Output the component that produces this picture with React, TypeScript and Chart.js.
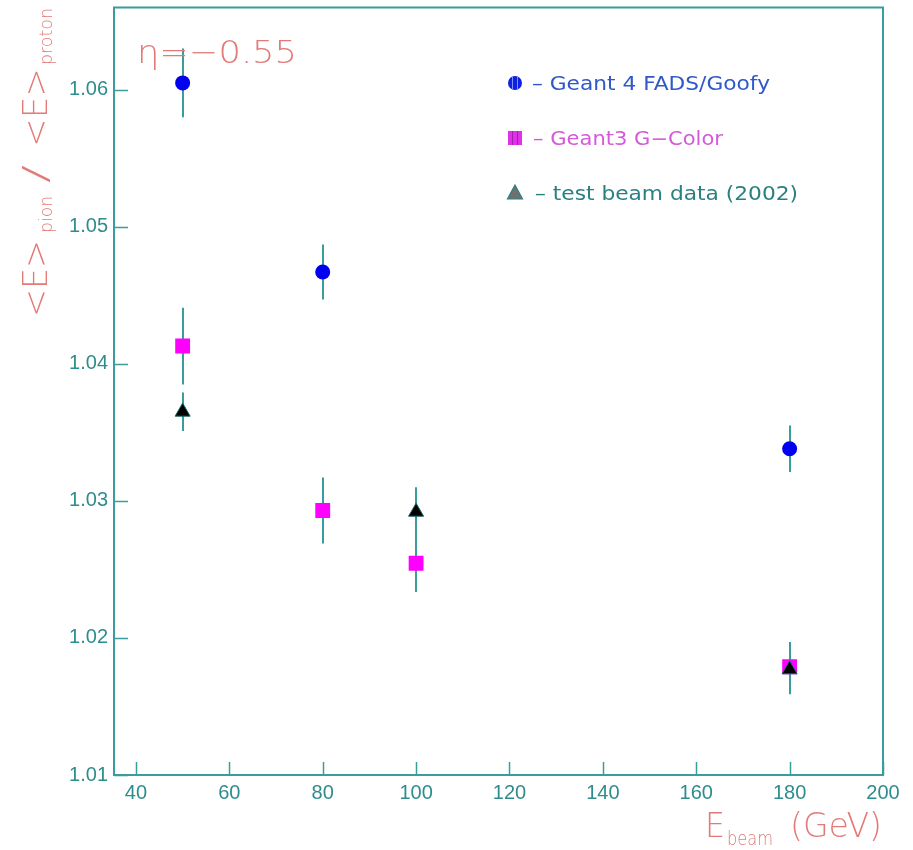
import { useEffect, useRef } from "react";
import { Chart, registerables } from "chart.js";

Chart.register(...registerables);

// ---- data ----
const g4Energy = [50, 80, 180];
const g4Ratio = [1.0605, 1.0467, 1.0338];
const g4Error = [0.0025, 0.002, 0.0017];

const g3Energy = [50, 80, 100, 180];
const g3Ratio = [1.0413, 1.0293, 1.02545, 1.0179];
const g3Error = [0.0028, 0.0024, 0.0021, 0.0018];

const tbEnergy = [50, 100, 180];
const tbRatio = [1.0365, 1.0292, 1.0177];
const tbError = [0.0014, 0.0018, 0.0018];

const xTicks = [40, 60, 80, 100, 120, 140, 160, 180, 200];
const yTicks = [1.01, 1.02, 1.03, 1.04, 1.05, 1.06];
const xRange = [35.3, 200];
const yRange = [1.01, 1.066];

const seriesLabels = ["Geant 4 FADS/Goofy", "Geant3 G\u2212Color", "test beam data (2002)"];
const etaLabel = "\u03b7=\u22120.55";

// ---- styles ----
const TEAL = "#3a9c9c";
const TICK_TEXT = "#2f8c8c";
const SALMON = "#e27a78";
const FONT = "'Liberation Sans', Arial, sans-serif";
const THIN = "'DejaVu Sans', 'Liberation Sans', sans-serif";
const OFF = 3; // canvas is shifted up by this many pixels

function fitText(
  ctx: CanvasRenderingContext2D,
  text: string,
  x: number,
  y: number,
  size: number,
  color: string,
  width?: number,
  family: string = THIN,
  weight: number = 200,
  dy: number = OFF
) {
  ctx.save();
  ctx.font = `${weight} ${size}px ${family}`;
  ctx.fillStyle = color;
  ctx.textAlign = "left";
  ctx.textBaseline = "alphabetic";
  const w = ctx.measureText(text).width;
  const sx = width ? width / w : 1;
  ctx.translate(x, y + dy);
  ctx.scale(sx, 1);
  ctx.fillText(text, 0, 0);
  ctx.restore();
}

const errorBarPlugin = {
  id: "errorBars",
  beforeDatasetsDraw(chart: any) {
    const ctx = chart.ctx as CanvasRenderingContext2D;
    const xs = chart.scales.x;
    const ys = chart.scales.y;
    const area = chart.chartArea;
    ctx.save();
    ctx.beginPath();
    ctx.rect(area.left, area.top, area.right - area.left, area.bottom - area.top);
    ctx.clip();
    ctx.strokeStyle = TEAL;
    ctx.lineWidth = 2;
    chart.data.datasets.forEach((ds: any) => {
      ds.data.forEach((p: any, j: number) => {
        const e = ds.errors[j];
        const px = Math.round(xs.getPixelForValue(p.x));
        ctx.beginPath();
        ctx.moveTo(px, ys.getPixelForValue(p.y - e));
        ctx.lineTo(px, ys.getPixelForValue(p.y + e));
        ctx.stroke();
      });
    });
    ctx.restore();
  },
};

const decorPlugin = {
  id: "decor",
  afterDraw(chart: any) {
    const ctx = chart.ctx as CanvasRenderingContext2D;
    const a = chart.chartArea;
    const xs = chart.scales.x;
    const ys = chart.scales.y;
    ctx.save();
    ctx.strokeStyle = TEAL;
    ctx.lineWidth = 2;
    ctx.strokeRect(a.left, a.top, a.right - a.left, a.bottom - a.top);
    ctx.lineWidth = 1.5;
    ctx.beginPath();
    yTicks.forEach((v) => {
      const py = Math.round(ys.getPixelForValue(v)) + 0.5;
      ctx.moveTo(a.left, py);
      ctx.lineTo(a.left + 14, py);
    });
    xTicks.forEach((v) => {
      const px = Math.round(xs.getPixelForValue(v)) + 0.5;
      ctx.moveTo(px, a.bottom);
      ctx.lineTo(px, a.bottom - 13);
    });
    ctx.stroke();
    ctx.restore();

    // eta label
    fitText(ctx, etaLabel, 137, 63, 32, SALMON, 160);

    // x title
    fitText(ctx, "E", 705, 837, 33, SALMON, 20);
    fitText(ctx, "beam", 727, 845, 19, SALMON, 46);
    fitText(ctx, "(GeV)", 790, 837, 33, SALMON, 92);

    // y title (rotated)
    ctx.save();
    ctx.translate(47, 317 + OFF);
    ctx.rotate(-Math.PI / 2);
    fitText(ctx, "<E>", 0, 0, 33, SALMON, 77, THIN, 200, 0);
    fitText(ctx, "pion", 84, 5, 18, SALMON, 37, THIN, 200, 0);
    fitText(ctx, "/", 134, 0, 33, SALMON, 18, THIN, 200, 0);
    fitText(ctx, "<E>", 170, 0, 33, SALMON, 79, THIN, 200, 0);
    fitText(ctx, "proton", 252, 5, 18, SALMON, 57, THIN, 200, 0);
    ctx.restore();

    // legend symbols
    const mx = 515;
    ctx.save();
    ctx.translate(0, OFF);
    ctx.fillStyle = "#1020e0";
    ctx.beginPath();
    ctx.arc(mx, 83, 7, 0, Math.PI * 2);
    ctx.fill();
    ctx.strokeStyle = "#8090ff";
    ctx.lineWidth = 1;
    ctx.beginPath();
    ctx.moveTo(mx - 2.5, 77);
    ctx.lineTo(mx - 2.5, 89);
    ctx.moveTo(mx + 2.5, 77);
    ctx.lineTo(mx + 2.5, 89);
    ctx.stroke();
    ctx.fillStyle = "#e030e8";
    ctx.fillRect(mx - 7, 131, 14, 14);
    ctx.strokeStyle = "#a020b0";
    ctx.beginPath();
    ctx.moveTo(mx - 2.5, 131);
    ctx.lineTo(mx - 2.5, 145);
    ctx.moveTo(mx + 2.5, 131);
    ctx.lineTo(mx + 2.5, 145);
    ctx.stroke();
    ctx.fillStyle = "#707070";
    ctx.strokeStyle = "#2a8080";
    ctx.lineWidth = 1.2;
    ctx.beginPath();
    ctx.moveTo(mx, 185);
    ctx.lineTo(mx + 7.5, 199);
    ctx.lineTo(mx - 7.5, 199);
    ctx.closePath();
    ctx.fill();
    ctx.stroke();
    ctx.restore();

    fitText(ctx, "\u2013 " + seriesLabels[0], 532, 90, 19, "#3058c8", 238, THIN, 400);
    fitText(ctx, "\u2013 " + seriesLabels[1], 533, 145, 19, "#d45ad8", 190, THIN, 400);
    fitText(ctx, "\u2013 " + seriesLabels[2], 535, 200, 19, "#2a8080", 263, THIN, 400);
  },
};

function toPoints(xs: number[], ys: number[]) {
  return xs.map((x, i) => ({ x, y: ys[i] }));
}

export default function App() {
  const ref = useRef<HTMLCanvasElement | null>(null);

  useEffect(() => {
    if (!ref.current) return;
    const chart = new Chart(ref.current, {
      type: "scatter",
      data: {
        datasets: [
          {
            label: seriesLabels[0],
            data: toPoints(g4Energy, g4Ratio),
            errors: g4Error,
            order: 3,
            pointStyle: "circle",
            pointRadius: 7.5,
            backgroundColor: "#0000f0",
            borderWidth: 0,
          } as any,
          {
            label: seriesLabels[1],
            data: toPoints(g3Energy, g3Ratio),
            errors: g3Error,
            order: 2,
            pointStyle: "rect",
            pointRadius: 10.5,
            backgroundColor: "#ff00ff",
            borderWidth: 0,
          } as any,
          {
            label: seriesLabels[2],
            data: toPoints(tbEnergy, tbRatio),
            errors: tbError,
            order: 1,
            pointStyle: "triangle",
            pointRadius: 8.7,
            backgroundColor: "#000000",
            borderColor: "#1a6a6a",
            borderWidth: 1,
          } as any,
        ],
      },
      options: {
        animation: false,
        responsive: false,
        events: [],
        layout: { padding: { left: 0, top: 4, right: 30, bottom: 0 } },
        plugins: {
          legend: { display: false },
          tooltip: { enabled: false },
          title: { display: false },
        },
        scales: {
          x: {
            type: "linear",
            min: xRange[0],
            max: xRange[1],
            grid: { display: false, drawTicks: false },
            border: { display: false },
            afterBuildTicks: (s: any) => {
              s.ticks = xTicks.map((v) => ({ value: v }));
            },
            afterFit: (s: any) => {
              s.height = 75;
              s.paddingLeft = 0;
              s.paddingRight = 0;
            },
            ticks: {
              padding: 6,
              color: TICK_TEXT,
              font: { family: FONT, size: 20 },
              maxRotation: 0,
              autoSkip: false,
              callback: (v: any) => String(v),
            },
          },
          y: {
            type: "linear",
            min: yRange[0],
            max: yRange[1],
            grid: { display: false, drawTicks: false },
            border: { display: false },
            afterBuildTicks: (s: any) => {
              s.ticks = yTicks.map((v) => ({ value: v }));
            },
            afterFit: (s: any) => {
              s.width = 114;
              s.paddingTop = 0;
              s.paddingBottom = 0;
            },
            ticks: {
              padding: 6,
              color: TICK_TEXT,
              font: { family: FONT, size: 20 },
              autoSkip: false,
              callback: (v: any) => Number(v).toFixed(2),
            },
          },
        },
      },
      plugins: [errorBarPlugin, decorPlugin],
    } as any);
    return () => chart.destroy();
  }, []);

  return (
    <div style={{ position: "absolute", left: 0, top: -OFF, width: 913, height: 850 + OFF, background: "#fff", overflow: "hidden" }}>
      <canvas ref={ref} width={913} height={850 + OFF} style={{ display: "block" }} />
    </div>
  );
}
